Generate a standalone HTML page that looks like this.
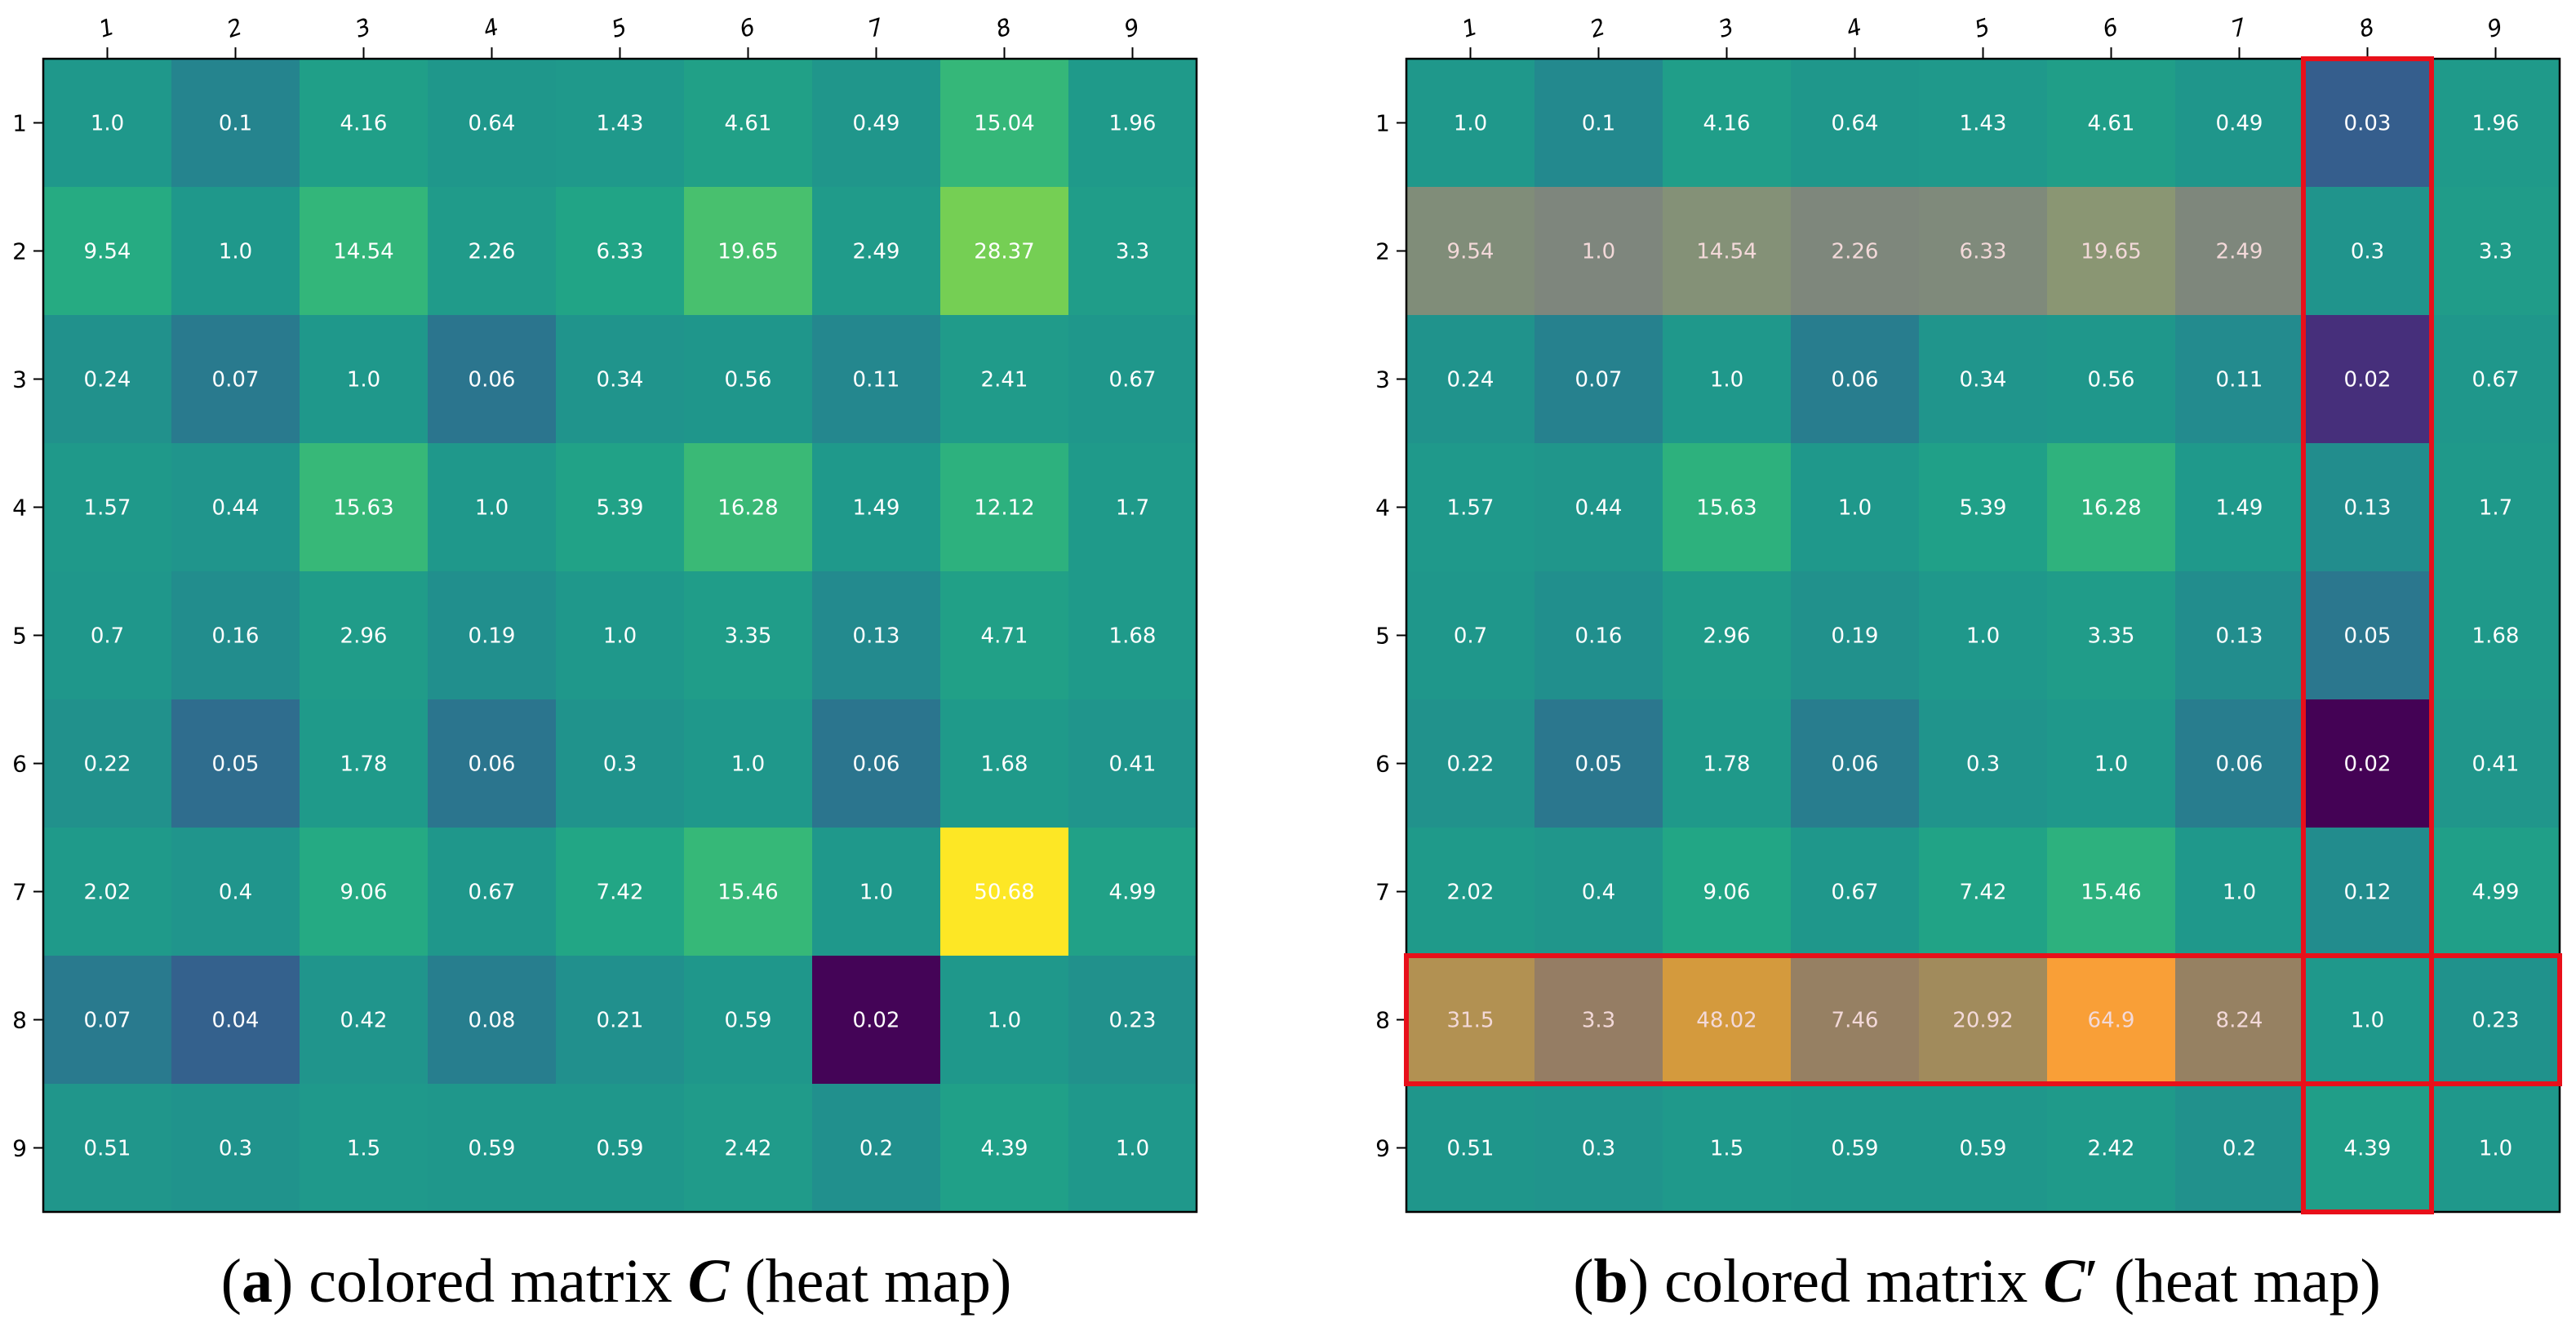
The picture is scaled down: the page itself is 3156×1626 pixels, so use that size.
<!DOCTYPE html>
<html><head><meta charset="utf-8"><style>
html,body{margin:0;padding:0;background:#fff;}
svg{display:block;}
</style></head><body>
<svg id="fig" width="3156" height="1626" viewBox="0 0 3156 1626" xmlns="http://www.w3.org/2000/svg"></svg>
<script>
const rowLabels = ["1","2","3","4","5","6","7","8","9"];
const colLabels = ["1","2","3","4","5","6","7","8","9"];
const matrixC = [
 [1.0,0.1,4.16,0.64,1.43,4.61,0.49,15.04,1.96],
 [9.54,1.0,14.54,2.26,6.33,19.65,2.49,28.37,3.3],
 [0.24,0.07,1.0,0.06,0.34,0.56,0.11,2.41,0.67],
 [1.57,0.44,15.63,1.0,5.39,16.28,1.49,12.12,1.7],
 [0.7,0.16,2.96,0.19,1.0,3.35,0.13,4.71,1.68],
 [0.22,0.05,1.78,0.06,0.3,1.0,0.06,1.68,0.41],
 [2.02,0.4,9.06,0.67,7.42,15.46,1.0,50.68,4.99],
 [0.07,0.04,0.42,0.08,0.21,0.59,0.02,1.0,0.23],
 [0.51,0.3,1.5,0.59,0.59,2.42,0.2,4.39,1.0]
];
const matrixCp = [
 [1.0,0.1,4.16,0.64,1.43,4.61,0.49,0.03,1.96],
 [9.54,1.0,14.54,2.26,6.33,19.65,2.49,0.3,3.3],
 [0.24,0.07,1.0,0.06,0.34,0.56,0.11,0.019,0.67],
 [1.57,0.44,15.63,1.0,5.39,16.28,1.49,0.13,1.7],
 [0.7,0.16,2.96,0.19,1.0,3.35,0.13,0.05,1.68],
 [0.22,0.05,1.78,0.06,0.3,1.0,0.06,0.0155,0.41],
 [2.02,0.4,9.06,0.67,7.42,15.46,1.0,0.12,4.99],
 [31.5,3.3,48.02,7.46,20.92,64.9,8.24,1.0,0.23],
 [0.51,0.3,1.5,0.59,0.59,2.42,0.2,4.39,1.0]
];
const labelsCp = [
 ["1.0","0.1","4.16","0.64","1.43","4.61","0.49","0.03","1.96"],
 ["9.54","1.0","14.54","2.26","6.33","19.65","2.49","0.3","3.3"],
 ["0.24","0.07","1.0","0.06","0.34","0.56","0.11","0.02","0.67"],
 ["1.57","0.44","15.63","1.0","5.39","16.28","1.49","0.13","1.7"],
 ["0.7","0.16","2.96","0.19","1.0","3.35","0.13","0.05","1.68"],
 ["0.22","0.05","1.78","0.06","0.3","1.0","0.06","0.02","0.41"],
 ["2.02","0.4","9.06","0.67","7.42","15.46","1.0","0.12","4.99"],
 ["31.5","3.3","48.02","7.46","20.92","64.9","8.24","1.0","0.23"],
 ["0.51","0.3","1.5","0.59","0.59","2.42","0.2","4.39","1.0"]
];
const highlightRowsCp = [1, 7];
const highlightRow = 7;
const highlightCol = 7;

const NS = "http://www.w3.org/2000/svg";
const svg = document.getElementById("fig");
const V = [[68,1,84],[72,36,117],[65,68,135],[57,86,140],[49,104,142],[42,120,142],[35,137,142],[31,152,139],[34,168,132],[53,183,121],[84,197,104],[122,209,81],[165,219,54],[210,226,27],[253,231,37]];
function viridis(t){t=Math.max(0,Math.min(1,t));const p=t*(V.length-1);const i=Math.min(V.length-2,Math.floor(p));const f=p-i;
 return V[i].map((c,k)=>Math.round(c+(V[i+1][k]-c)*f));}
function el(tag,attrs,parent){const e=document.createElementNS(NS,tag);for(const k in attrs)e.setAttribute(k,attrs[k]);(parent||svg).appendChild(e);return e;}
function fmtNum(v){return Number.isInteger(v)?v.toFixed(1):String(v);}
function colorScale(v,M){return v>=1?0.5+0.5*(v-1)/(M-1):0.5-0.5*(1/v-1)/(M-1);}

function drawHeatmap(x0,y0,size,data,labels,name,overlayRows){
 const n=data.length, cs=size/n;
 const flat=data.flat(); const M=Math.max(Math.max(...flat),1/Math.min(...flat));
 const xs=j=>x0+j*cs, ys=i=>y0+i*cs;
 const g=el("g",{});
 
 
 for(let i=0;i<n;i++)for(let j=0;j<n;j++){
  let c=viridis(colorScale(data[i][j],M));
  const over = overlayRows && overlayRows.indexOf(i)>=0 && j<highlightCol;
  if(over){
   const o = i===highlightRow ? [245,100,70] : [221,115,110];
   const a = i===highlightRow ? 0.55 : 0.5;
   c=c.map((v,k)=>Math.round(v*(1-a)+o[k]*a));
  }
  const r=el("rect",{x:xs(j),y:ys(i),width:cs+0.6,height:cs+0.6,fill:`rgb(${c})`},g);
  
  
  const t=el("text",{x:xs(j)+cs/2,y:ys(i)+cs/2+9,"text-anchor":"middle","font-family":"DejaVu Sans, sans-serif","font-size":26,fill:over?"#f3d9d9":"#ffffff"},g);
  t.textContent=labels?labels[i][j]:fmtNum(data[i][j]);
  
  
 }
 el("rect",{x:x0,y:y0,width:size,height:size,fill:"none",stroke:"#000","stroke-width":2.5},g);
 for(let k=0;k<n;k++){
  const cx=xs(k)+cs/2, cy=ys(k)+cs/2;
  el("line",{x1:cx,y1:y0,x2:cx,y2:y0-14,stroke:"#000","stroke-width":2},g);
  const tt=el("text",{x:0,y:0,"text-anchor":"middle","font-family":"DejaVu Sans, sans-serif","font-size":28,fill:"#000",transform:`translate(${cx},${y0-28}) rotate(-18) skewX(-12)`},g);
  tt.textContent=colLabels[k];
  
  
  el("line",{x1:x0,y1:cy,x2:x0-12,y2:cy,stroke:"#000","stroke-width":2},g);
  const yl=el("text",{x:x0-20,y:cy+10,"text-anchor":"end","font-family":"DejaVu Sans, sans-serif","font-size":28,fill:"#000"},g);
  yl.textContent=rowLabels[k];
  
  
 }
 return {xs,ys,cs};
}
const SIZE=1413;
drawHeatmap(53,72,SIZE,matrixC,null,"heatmap-c",null);
const b=drawHeatmap(1723,72,SIZE,matrixCp,labelsCp,"heatmap-c-prime",highlightRowsCp);
const rc=el("rect",{x:b.xs(highlightCol),y:72,width:b.cs,height:SIZE,fill:"none",stroke:"#e8101a","stroke-width":6});


const rr=el("rect",{x:1723,y:b.ys(highlightRow),width:SIZE,height:b.cs,fill:"none",stroke:"#e8101a","stroke-width":6});



function caption(cx,letter,prime,name){
 const t=el("text",{x:cx,y:1595,"text-anchor":"middle","font-family":"Liberation Serif, serif","font-size":76,fill:"#000"});
 
 
 t.innerHTML=`(<tspan font-weight="bold">${letter}</tspan>) colored matrix <tspan font-weight="bold" font-style="italic">C</tspan>${prime?"′":""} (heat map)`;
}
caption(755,"a",false,"caption-a");
caption(2422,"b",true,"caption-b");
</script>
</body></html>
